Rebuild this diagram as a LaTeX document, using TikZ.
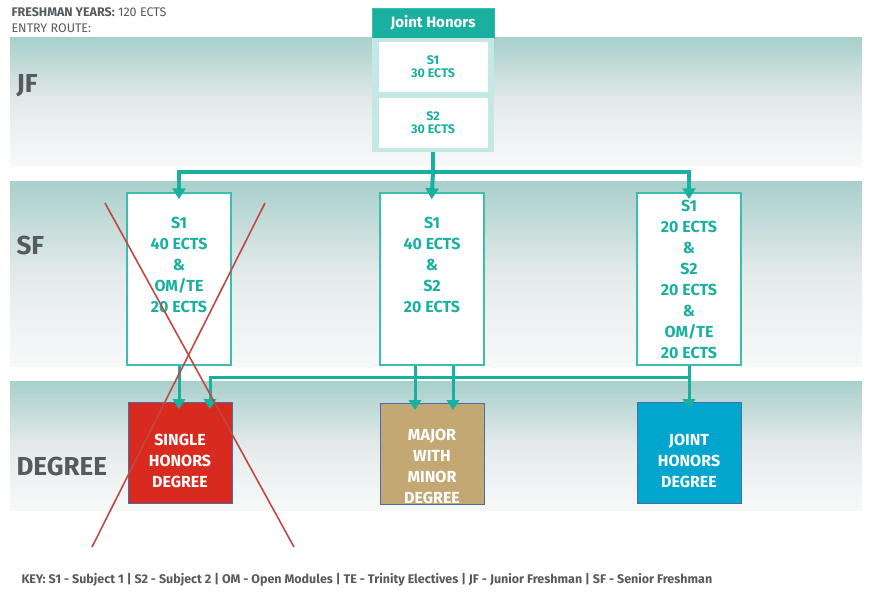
\documentclass[tikz,border=0pt]{standalone}
\usepackage{fontspec}
\setmainfont{Fira Sans}
\usetikzlibrary{arrows.meta,positioning}
\definecolor{tealA}{RGB}{26,176,160}
\definecolor{tealB}{RGB}{60,190,175}
\definecolor{paleteal}{RGB}{196,232,227}
\definecolor{bandtop}{RGB}{168,208,204}
\definecolor{bandmid}{RGB}{228,234,234}
\definecolor{bandbot}{RGB}{247,249,249}
\definecolor{labgrey}{RGB}{85,90,94}
\definecolor{honred}{RGB}{216,42,30}
\definecolor{majtan}{RGB}{196,168,116}
\definecolor{jntblue}{RGB}{0,166,206}
\definecolor{degedge}{RGB}{70,110,170}
\definecolor{crossred}{RGB}{192,72,66}
\begin{document}
\begin{tikzpicture}[x=1pt,y=-1pt,
    band/.style={top color=bandtop,bottom color=bandbot,middle color=bandmid},
    rowlab/.style={anchor=west,text=labgrey,font=\fontsize{26}{26}\selectfont\bfseries},
    sfbox/.style={draw=tealB,line width=1.5pt,fill=white,minimum width=104pt,minimum height=172pt,
        align=center,text=tealA,font=\fontsize{16}{21}\selectfont\bfseries,inner sep=0pt},
    jfbox/.style={fill=white,minimum width=109pt,minimum height=50pt,align=center,
        text=tealA,font=\fontsize{12.5}{13}\selectfont\bfseries,inner sep=0pt},
    degbox/.style={draw=degedge,line width=0.6pt,minimum width=104pt,minimum height=101pt,
        align=center,text=white,font=\fontsize{16}{21}\selectfont\bfseries,inner sep=0pt},
    flow/.style={draw=tealA,line width=4pt,-{Triangle[width=13pt,length=11pt]},shorten >=-7pt},
    trunk/.style={draw=tealA,line width=4pt},
    thinflow/.style={draw=tealA,line width=3pt,-{Triangle[width=12pt,length=10pt]},shorten >=-7pt},
    cross/.style={draw=crossred,line width=1.6pt}]
\useasboundingbox (0,0) rectangle (872,594);

% bands
\fill[band] (10,38) rectangle (862,165);
\fill[band] (10,181) rectangle (862,366);
\fill[band] (10,381) rectangle (862,510);

\node[anchor=west,text=labgrey,font=\fontsize{12.5}{13}\selectfont] (fy) at (8,12) {\textbf{FRESHMAN YEARS:} 120 ECTS};
\node[anchor=west,text=labgrey,font=\fontsize{12.5}{13}\selectfont] (er) at (8,28) {ENTRY ROUTE:};

\node[rowlab] (jf) at (13,86) {JF};
\node[rowlab] (sf) at (13,245) {SF};
\node[rowlab] (dg) at (13,466) {DEGREE};

% joint honors entry
\node[fill=tealA,draw=tealB,minimum width=122pt,minimum height=30pt,text=white,
    font=\fontsize{15}{15}\selectfont\bfseries] (jh) at (433,23) {Joint Honors};
\node[fill=paleteal,minimum width=122pt,minimum height=114pt] (jhframe) at (433,95) {};
\node[jfbox] (jfa) at (433,67) {S1\\30 ECTS};
\node[jfbox] (jfb) at (433,123) {S2\\30 ECTS};

% senior freshman
\node[sfbox,text depth=28pt] (sfa) at (179,279) {S1\\40 ECTS\\\&\\OM/TE\\20 ECTS};
\node[sfbox,text depth=28pt] (sfb) at (432,279) {S1\\40 ECTS\\\&\\S2\\20 ECTS};
\node[sfbox] (sfc) at (689,279) {S1\\20 ECTS\\\&\\S2\\20 ECTS\\\&\\OM/TE\\20 ECTS};

% degrees
\node[degbox,fill=honred,text height=70pt] (dga) at (180,453) {SINGLE\\HONORS\\DEGREE};
\node[degbox,fill=majtan,text height=99pt] (dgb) at (432,454) {MAJOR\\WITH\\MINOR\\DEGREE};
\node[degbox,fill=jntblue,text height=70pt] (dgc) at (689,453) {JOINT\\HONORS\\DEGREE};

% routes
\coordinate (split) at (433,172);
\draw[trunk] (jhframe.south) -- (split);
\draw[flow] (split) -| (sfa.north);
\draw[flow] (split) -- (sfb.north);
\draw[flow] (split) -| (sfc.north);

\coordinate (bus) at (689,377);
\draw[thinflow] (sfa.south) -- (sfa.south |- dga.north);
\draw[thinflow] ([xshift=-17pt]sfb.south) -- ([xshift=-17pt]dgb.north);
\draw[thinflow] ([xshift=21pt]sfb.south) -- ([xshift=21pt]dgb.north);
\draw[thinflow] (sfc.south) -- (dgc.north);
\draw[thinflow] (bus) -| ([xshift=30pt]dga.north);

% crossed out
\coordinate (xa) at (105,203);
\coordinate (xb) at (294,547);
\coordinate (xc) at (265,203);
\coordinate (xd) at (92,547);
\draw[cross] (xa) -- (xb);
\draw[cross] (xc) -- (xd);

\node[anchor=west,text=labgrey,font=\fontsize{12.5}{13}\selectfont\bfseries] (key) at (18,580)
    {KEY: S1 - Subject 1 | S2 - Subject 2 | OM - Open Modules | TE - Trinity Electives | JF - Junior Freshman | SF - Senior Freshman};
\end{tikzpicture}
\end{document}
